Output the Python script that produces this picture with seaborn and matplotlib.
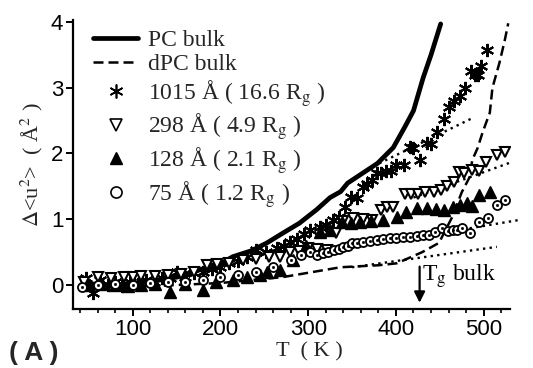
import matplotlib
matplotlib.use("Agg")
import matplotlib.pyplot as plt
import seaborn as sns
import numpy as np
from matplotlib.lines import Line2D
from matplotlib.ticker import MultipleLocator

# ---------------- data ----------------
T_pc = [45, 80, 120, 150, 176, 200, 214, 235, 253, 270, 290, 310, 325, 337, 345, 362, 379, 397, 410, 420, 431, 440, 451]
v_pc = [0.02, 0.0, 0.05, 0.12, 0.23, 0.32, 0.43, 0.52, 0.64, 0.78, 0.94, 1.15, 1.33, 1.42, 1.55, 1.7, 1.85, 2.09, 2.4, 2.65, 3.15, 3.5, 3.97]

T_dpc = [50, 100, 150, 200, 271, 337, 380, 401, 430, 449, 464, 475, 484, 487, 493, 499, 507, 510, 518, 524, 528]
v_dpc = [-0.02, -0.03, 0.0, 0.03, 0.12, 0.27, 0.3, 0.33, 0.5, 0.64, 1.03, 1.41, 1.64, 1.9, 2.08, 2.33, 2.62, 3.0, 3.38, 3.72, 3.98]

T_1015 = [47, 55, 63, 72, 80, 88, 97, 106, 115, 124, 133, 142, 151, 160, 170, 180, 190, 200, 210, 220,
          230, 241, 252, 264, 272, 279, 287, 295, 302, 313, 320, 328, 335, 342, 349, 356, 362, 367, 373, 378,
          383, 389, 394, 400, 409, 416, 420, 428, 435, 440, 447, 455, 460, 466, 473, 479, 485, 490, 494, 497, 504]
v_1015 = [0.1, -0.12, 0.08, 0.0, 0.05, -0.02, 0.05, 0.02, 0.08, 0.05, 0.1, 0.1, 0.2, 0.12, 0.18, 0.2, 0.25, 0.28, 0.33, 0.36,
          0.42, 0.53, 0.5, 0.56, 0.6, 0.65, 0.7, 0.78, 0.84, 0.88, 0.92, 0.99, 1.03, 1.19, 1.34, 1.33, 1.49, 1.54, 1.6, 1.7,
          1.7, 1.74, 1.74, 1.83, 1.82, 2.1, 2.09, 1.9, 2.16, 2.15, 2.32, 2.53, 2.7, 2.8, 2.88, 3.0, 3.26, 3.2, 3.2, 3.33, 3.57]

T_298 = [45, 60, 75, 90, 100, 110, 125, 140, 155, 170, 185, 196, 210, 226, 240, 255, 268, 279, 290, 300, 310, 321, 332,
         340, 351, 362, 373, 383, 390, 397, 410, 417, 425, 433, 443, 451, 458, 466, 472, 478, 487, 495, 503, 515, 524]
v_298 = [0.05, 0.12, 0.1, 0.12, 0.12, 0.13, 0.13, 0.15, 0.17, 0.2, 0.3, 0.32, 0.33, 0.38, 0.4, 0.42, 0.42, 0.5, 0.52, 0.56,
         0.55, 0.53, 0.79, 0.98, 1.02, 1.0, 0.99, 1.14, 1.18, 1.18, 1.39, 1.39, 1.39, 1.41, 1.41, 1.44, 1.5, 1.56, 1.72,
         1.71, 1.75, 1.74, 1.87, 1.98, 2.02]

T_128 = [50, 65, 80, 95, 110, 125, 142, 160, 180, 195, 214, 230, 245, 253, 268, 283, 297, 313, 325, 339, 349, 359,
         372, 385, 401, 412, 424, 435, 446, 455, 465, 473, 481, 487, 495, 507]
v_128 = [0.0, 0.02, 0.0, -0.02, 0.0, 0.02, -0.1, 0.02, -0.08, 0.05, 0.08, 0.12, 0.15, 0.2, 0.23, 0.38, 0.6, 0.8, 0.84,
         0.96, 0.94, 0.96, 0.97, 0.99, 1.03, 1.11, 1.17, 1.17, 1.16, 1.14, 1.19, 1.22, 1.25, 1.2, 1.37, 1.42]

T_75 = [42, 60, 80, 100, 120, 140, 160, 180, 200, 220, 240, 260, 280, 292, 302, 310, 317, 323, 329, 335, 340, 345, 350,
        356, 362, 370, 378, 385, 393, 400, 408, 416, 424, 431, 438, 445, 453, 459, 465, 470, 475, 484, 495, 505, 515, 524]
v_75 = [-0.03, 0.0, 0.02, 0.0, 0.03, 0.05, 0.05, 0.08, 0.12, 0.15, 0.2, 0.28, 0.38, 0.45, 0.5, 0.46, 0.48, 0.5, 0.53,
        0.55, 0.58, 0.6, 0.64, 0.64, 0.66, 0.67, 0.68, 0.7, 0.71, 0.72, 0.73, 0.73, 0.74, 0.76, 0.76, 0.8, 0.86, 0.82,
        0.84, 0.83, 0.86, 0.79, 0.96, 1.02, 1.22, 1.29]

# harmonic (dotted) fits: visible end points
fit_T = [[381, 489], [420, 532], [380, 541], [350, 515]]
fit_v = [[1.85, 2.55], [1.33, 1.87], [0.63, 0.99], [0.27, 0.58]]

labels = ["PC bulk", "dPC bulk",
          "1015 Å ( 16.6 R$_{\\mathrm{g}}$ )", "298 Å ( 4.9 R$_{\\mathrm{g}}$ )",
          "128 Å ( 2.1 R$_{\\mathrm{g}}$ )", "75 Å ( 1.2 R$_{\\mathrm{g}}$ )"]
xticks = [100, 200, 300, 400, 500]
yticks = [0, 1, 2, 3, 4]
Tg_bulk = 427

# ---------------- style ----------------
sns.set_style("ticks")
plt.rcParams["font.family"] = ["Liberation Sans", "DejaVu Sans"]
plt.rcParams["mathtext.fontset"] = "stix"
SERIF = ["Liberation Serif", "DejaVu Serif"]

fig = plt.figure(figsize=(5.33, 3.68), dpi=100)
ax = fig.add_axes([73 / 533, 1 - 309 / 368, (510 - 73) / 533, (309 - 20) / 368])

K = "black"
dash = (0, (4, 2))
dot = (0, (1, 1.8))

# lines
sns.lineplot(x=T_pc, y=v_pc, ax=ax, color=K, lw=3.4, estimator=None, sort=False, zorder=3)
sns.lineplot(x=T_dpc, y=v_dpc, ax=ax, color=K, lw=1.8, linestyle=dash, estimator=None, sort=False, zorder=3)
for ft, fv in zip(fit_T, fit_v):
    sns.lineplot(x=ft, y=fv, ax=ax, color=K, lw=1.7, linestyle=dot, estimator=None, sort=False, zorder=2)
for l in ax.lines:
    l.set_clip_on(False)

# markers
common = dict(ax=ax, color=K, linestyle="", estimator=None, sort=False, zorder=4)
sns.lineplot(x=T_1015, y=v_1015, marker=(6, 2, 0), markersize=9.5, markeredgecolor=K, markeredgewidth=1.5, **common)
sns.lineplot(x=T_298, y=v_298, marker="v", markersize=7.5, markerfacecolor="white", markeredgecolor=K,
             markeredgewidth=1.5, **common)
sns.lineplot(x=T_128, y=v_128, marker="^", markersize=8, markerfacecolor=K, markeredgecolor=K,
             markeredgewidth=1.0, **common)
sns.lineplot(x=T_75, y=v_75, marker="o", markersize=6.5, markerfacecolor="white", markeredgecolor=K,
             markeredgewidth=1.3, **common)
sns.lineplot(x=T_75, y=v_75, marker="o", markersize=1.6, markerfacecolor=K, markeredgecolor=K,
             markeredgewidth=0.5, **common)

# axes
ax.set_xlim(32, 530)
ax.set_ylim(-0.365, 4.03)
ax.set_xticks(xticks)
ax.set_yticks(yticks)
ax.xaxis.set_minor_locator(MultipleLocator(20))
for s in ["top", "right"]:
    ax.spines[s].set_visible(False)
for s in ["left", "bottom"]:
    ax.spines[s].set_linewidth(1.6)
    ax.spines[s].set_color(K)
ax.tick_params(axis="both", which="major", direction="out", length=5, width=1.4, labelsize=16, colors=K, pad=2)
ax.tick_params(axis="x", which="minor", direction="out", length=3, width=1.2, colors=K)
ax.tick_params(axis="y", which="minor", left=False)

ax.set_xlabel("T  ( K )", fontsize=16, family=SERIF, x=0.54, labelpad=2)
ax.set_ylabel(r"$\Delta$<u$^{2}$>  ( Å$^{2}$ )", fontsize=16, family=SERIF, labelpad=4)
fig.text(9 / 533, 1 - 353 / 368, "( A )", fontsize=19, fontweight="bold", ha="left", va="center")

# Tg arrow
ax.annotate("", xy=(Tg_bulk, -0.27), xytext=(Tg_bulk, 0.28),
            arrowprops=dict(arrowstyle="-|>", color=K, lw=1.6, mutation_scale=16, shrinkA=0, shrinkB=0))
ax.text(Tg_bulk + 3, 0.14, "T$_{\\mathrm{g}}$ bulk", fontsize=17, family=SERIF, ha="left", va="center", color=K)

# legend
handles = [
    Line2D([], [], color=K, lw=3.4),
    Line2D([], [], color=K, lw=1.8, linestyle=dash),
    Line2D([], [], color=K, linestyle="", marker=(6, 2, 0), markersize=10, markeredgewidth=1.2),
    Line2D([], [], color=K, linestyle="", marker="v", markersize=9, markerfacecolor="white", markeredgewidth=1.2),
    Line2D([], [], color=K, linestyle="", marker="^", markersize=9, markerfacecolor=K),
    Line2D([], [], color=K, linestyle="", marker="o", markersize=8, markerfacecolor="white", markeredgewidth=1.2),
]
leg = ax.legend(handles, labels, loc="upper left", bbox_to_anchor=(0.046, 0.968), frameon=False,
                prop={"family": SERIF, "size": 17}, handlelength=1.9, handletextpad=0.42,
                labelspacing=0.12, borderaxespad=0.0, borderpad=0.0)

fig.savefig("out.png", dpi=100)
